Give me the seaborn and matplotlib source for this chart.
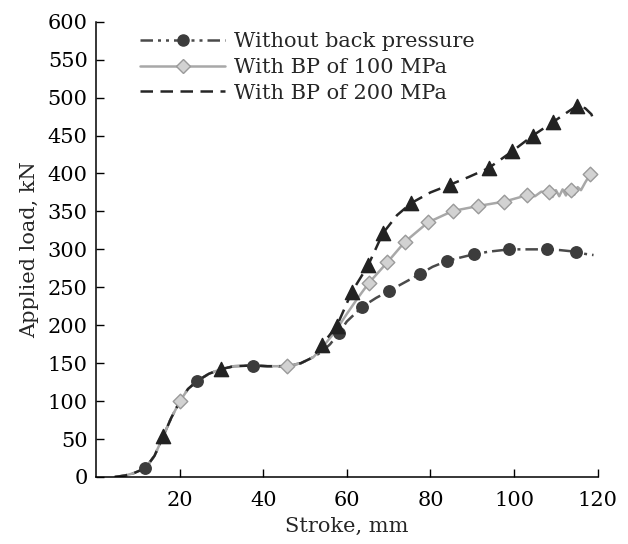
import numpy as np
import pandas as pd
import seaborn as sns
import matplotlib
matplotlib.use("Agg")
import matplotlib.pyplot as plt
from matplotlib.lines import Line2D

# shared start of all three curves (stroke mm, load kN)
common_x = [4.5, 7, 9, 11.8, 14, 16.1, 18, 20.1, 22, 24.2, 27, 29.8, 33, 37.6, 41, 45.6, 49, 52]
common_y = [0, 2, 5, 11.5, 28, 54, 78, 100, 116, 126.5, 136, 142, 146, 147, 146, 146, 150, 158]

# without back pressure
nobp_x = [54, 56, 58.1, 60, 63.7, 67, 70.2, 74, 77.5, 80.5, 83.9, 87, 90.3, 94, 98.9, 103, 107.8, 111, 114.8, 117, 119]
nobp_y = [165, 175, 189.7, 205, 224.4, 236, 245.5, 257, 267.5, 277, 284.6, 289, 293.4, 297, 300, 300, 300, 299, 296.8, 294, 292.5]
nobp_mx = [11.8, 24.2, 37.6, 58.1, 63.7, 70.2, 77.5, 83.9, 90.3, 98.9, 107.8, 114.8]
nobp_my = [11.5, 126.5, 146.6, 189.7, 224.4, 245.5, 267.5, 284.6, 293.4, 300, 300, 296.8]

# BP 100 MPa
bp100_x = [54, 57, 60, 62.5, 65.3, 69.7, 73.9, 79.4, 85.3, 91.3, 97.7, 103.2, 105, 106.5, 108.3,
           109.2, 110, 110.8, 111.6, 112.4, 113.2, 113.6, 114.4, 115.2, 116, 117, 118.2]
bp100_y = [170, 190, 215, 235, 256, 283, 310, 335.5, 350.5, 357, 363, 371.5, 370, 376, 375,
           369, 378, 370, 379, 371, 380, 378, 372, 382, 378, 388, 399]
bp100_mx = [20.1, 45.6, 65.3, 69.7, 73.9, 79.4, 85.3, 91.3, 97.7, 103.2, 108.3, 113.6, 118.2]
bp100_my = [100.5, 146, 256, 283, 310, 335.5, 350.5, 357, 363, 371.5, 375, 378, 399]

# BP 200 MPa
bp200_x = [54, 57.6, 61.2, 65.1, 68.6, 72, 75.4, 80, 84.6, 89, 93.9, 99.5, 104.5, 109.4, 112, 115, 117, 118.5, 119]
bp200_y = [174, 199, 244, 279, 321, 345, 361, 375, 385, 395, 407, 429, 450, 468, 478, 489, 486, 478, 470]
bp200_mx = [16.1, 29.8, 54, 57.6, 61.2, 65.1, 68.6, 75.4, 84.6, 93.9, 99.5, 104.5, 109.4, 115]
bp200_my = [54, 142, 174, 199, 244, 279, 321, 361, 385, 407, 429, 450, 468, 489]

labels = ["Without back pressure", "With BP of 100 MPa", "With BP of 200 MPa"]

lines = pd.concat([
    pd.DataFrame({"stroke": common_x + nobp_x, "load": common_y + nobp_y, "case": labels[0]}),
    pd.DataFrame({"stroke": common_x + bp100_x, "load": common_y + bp100_y, "case": labels[1]}),
    pd.DataFrame({"stroke": common_x + bp200_x, "load": common_y + bp200_y, "case": labels[2]}),
], ignore_index=True)
marks = pd.concat([
    pd.DataFrame({"stroke": nobp_mx, "load": nobp_my, "case": labels[0]}),
    pd.DataFrame({"stroke": bp100_mx, "load": bp100_my, "case": labels[1]}),
    pd.DataFrame({"stroke": bp200_mx, "load": bp200_my, "case": labels[2]}),
], ignore_index=True)

sns.set_style("ticks")
plt.rcParams["font.family"] = ["DejaVu Serif"]
plt.rcParams["font.size"] = 15

line_col = {labels[0]: "#4a4a4a", labels[1]: "#a8a8a8", labels[2]: "#262626"}
dash = {labels[0]: (5, 2, 1.2, 2, 1.2, 2), labels[1]: "", labels[2]: (5, 3)}

fig = plt.figure(figsize=(6.28, 5.44), dpi=100)
ax = fig.add_axes([96 / 628, 1 - 477 / 544, (597.7 - 96) / 628, (477 - 21.7) / 544])

sns.lineplot(data=lines, x="stroke", y="load", hue="case", style="case", palette=line_col,
             dashes=dash, linewidth=1.8, sort=False, estimator=None, legend=False, ax=ax)

# markers on top
m_face = {labels[0]: "#3c3c3c", labels[1]: "#d2d2d2", labels[2]: "#222222"}
m_edge = {labels[0]: "#3c3c3c", labels[1]: "#9a9a9a", labels[2]: "#222222"}
m_shape = {labels[0]: "o", labels[1]: "D", labels[2]: "^"}
m_size = {labels[0]: 68, labels[1]: 55, labels[2]: 105}
for lab in labels:
    sub = marks[marks["case"] == lab]
    sns.scatterplot(data=sub, x="stroke", y="load", marker=m_shape[lab], s=m_size[lab],
                    color=m_face[lab], edgecolor=m_edge[lab], linewidth=1.0, zorder=5,
                    legend=False, ax=ax)

ax.set_xlim(0, 120)
ax.set_ylim(0, 600)
ax.set_xticks([20, 40, 60, 80, 100, 120])
ax.set_yticks(np.arange(0, 601, 50))
ax.tick_params(direction="in", length=6, width=1, labelsize=15, colors="black")
ax.tick_params(axis="x", pad=10)
ax.tick_params(axis="y", pad=6)
sns.despine(ax=ax)
for s in ["left", "bottom"]:
    ax.spines[s].set_linewidth(1.1)
    ax.spines[s].set_color("black")
ax.set_xlabel("Stroke, mm", fontsize=15, labelpad=5)
ax.set_ylabel("Applied load, kN", fontsize=15, labelpad=6)

handles = [
    Line2D([0, 0.1, 0.7, 1], [0, 0, 0, 0], color=line_col[labels[0]],
           linestyle=(0, dash[labels[0]]), linewidth=1.8, marker="o", markersize=8,
           markerfacecolor=m_face[labels[0]], markeredgecolor=m_edge[labels[0]],
           markevery=[1, 2]),
    Line2D([], [], color=line_col[labels[1]], linewidth=1.8, marker="D", markersize=7,
           markerfacecolor=m_face[labels[1]], markeredgecolor=m_edge[labels[1]]),
    Line2D([], [], color=line_col[labels[2]], linestyle=(0, dash[labels[2]]), linewidth=1.8),
]
leg = ax.legend(handles, labels, loc="upper left", bbox_to_anchor=(140 / 628, 1 - 32 / 544),
                bbox_transform=fig.transFigure, frameon=False, fontsize=15, borderpad=0,
                borderaxespad=0, handlelength=4.1, handletextpad=0.42, labelspacing=0.33,
                numpoints=1)

fig.savefig("out.png", dpi=100)
